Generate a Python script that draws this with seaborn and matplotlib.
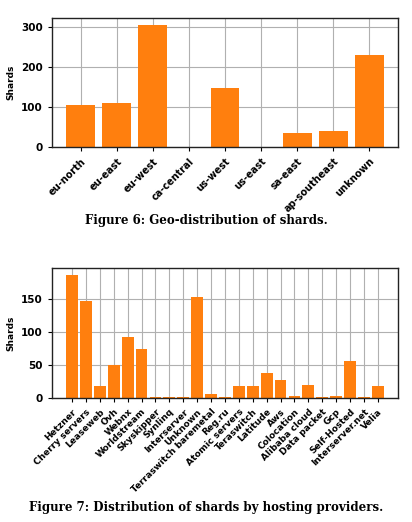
import numpy as np
import pandas as pd
import seaborn as sns
import matplotlib.pyplot as plt

# Figure 6: geo-distribution
regions = ["eu-north", "eu-east", "eu-west", "ca-central", "us-west",
           "us-east", "sa-east", "ap-southeast", "unknown"]
region_shards = [106, 111, 306, 0, 149, 0, 36, 41, 231]

# Figure 7: hosting providers
providers = ["Hetzner", "Cherry servers", "Leaseweb", "Ovh", "Webnx", "Worldstream",
             "Skyskipper", "Synlinq", "Interserver", "Unknown", "Terraswitch baremetal",
             "Reg.ru", "Atomic servers", "Teraswitch", "Latitude", "Aws", "Colocation",
             "Alibaba cloud", "Data packet", "Gcp", "Self-Hosted", "Interserver.net", "Velia"]
provider_shards = [186, 147, 18, 50, 92, 74, 1, 1, 1, 153, 6, 1, 18, 18, 38, 27, 3,
                   20, 1, 3, 56, 1, 18]

orange = "#ff7f0e"

fig = plt.figure(figsize=(4.12, 5.22), dpi=100)
ax1 = fig.add_axes([0.126, 0.718, 0.840, 0.247])
ax2 = fig.add_axes([0.126, 0.2375, 0.840, 0.249])

df1 = pd.DataFrame({"region": regions, "shards": region_shards})
df2 = pd.DataFrame({"provider": providers, "shards": provider_shards})

sns.barplot(data=df1, x="region", y="shards", color=orange, saturation=1,
            width=0.8, ax=ax1)
sns.barplot(data=df2, x="provider", y="shards", color=orange, saturation=1,
            width=0.85, ax=ax2)

ax1.set_ylim(0, 322)
ax1.set_yticks([0, 100, 200, 300])
ax2.set_ylim(0, 197)
ax2.set_yticks([0, 50, 100, 150])

for ax, fs in ((ax1, 7), (ax2, 6.5)):
    ax.set_axisbelow(True)
    ax.grid(True, color="#b0b0b0", linewidth=0.8)
    ax.set_xlabel("")
    ax.set_ylabel("Shards", fontsize=6.5, fontweight="bold")
    ax.margins(x=0.045)
    for s in ax.spines.values():
        s.set_linewidth(1.0)
        s.set_color("#222222")
    ax.tick_params(axis="y", labelsize=7.5, length=3)
    ax.tick_params(axis="x", labelsize=fs, length=3)
    for lab in ax.get_yticklabels():
        lab.set_fontweight("bold")
    for lab in ax.get_xticklabels():
        lab.set_fontweight("bold")
        lab.set_rotation(45)
        lab.set_ha("right")
        lab.set_rotation_mode("anchor")

fig.text(0.5, 0.577, "Figure 6: Geo-distribution of shards.", ha="center", va="center",
         fontsize=8.5, fontweight="bold", family="DejaVu Serif")
fig.text(0.5, 0.027, "Figure 7: Distribution of shards by hosting providers.", ha="center",
         va="center", fontsize=8.5, fontweight="bold", family="DejaVu Serif")

fig.savefig("out.png", dpi=100)
